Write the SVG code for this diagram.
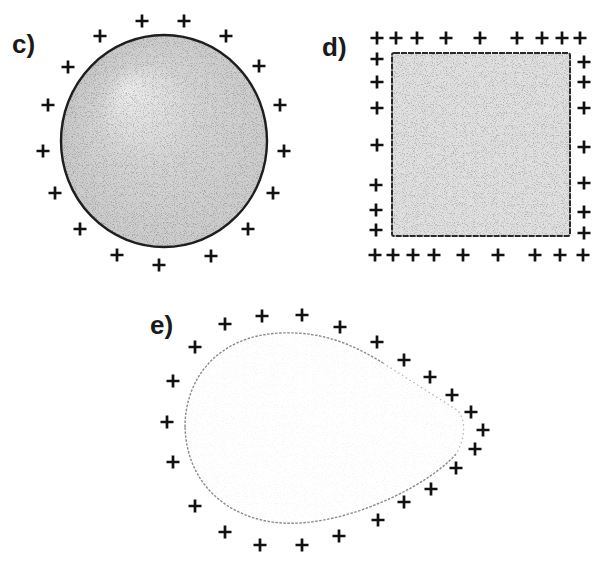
<svg xmlns="http://www.w3.org/2000/svg" xmlns:xlink="http://www.w3.org/1999/xlink" width="596" height="567" viewBox="0 0 596 567">
<style>
.lbl{font-family:"Liberation Sans",Arial,sans-serif;font-weight:bold;font-size:26px;fill:#1a1a1a}
.plus{stroke:#111;stroke-width:2.7;fill:none}
.grain{fill:#000}
</style>
<defs>
<path id="p" class="plus" d="M-6.5,0H6.5M0,-6.5V6.5"/>
<filter id="grainF" x="0" y="0" width="100%" height="100%">
<feTurbulence type="fractalNoise" baseFrequency="0.9" numOctaves="2" seed="7" result="n"/>
<feColorMatrix in="n" type="matrix" values="0 0 0 0 0  0 0 0 0 0  0 0 0 0 0  4 0 0 0 -2" result="d"/>
<feComposite in="d" in2="SourceAlpha" operator="in"/>
</filter>
<radialGradient id="cg" cx="0.6" cy="0.58" r="0.62" fx="0.32" fy="0.25">
<stop offset="0" stop-color="#ebebeb"/>
<stop offset="0.4" stop-color="#d4d4d4"/>
<stop offset="1" stop-color="#c8c8c8"/>
</radialGradient>
</defs>
<rect width="596" height="567" fill="#fff"/>

<g id="node-c">
<text class="lbl" x="12" y="53">c)</text>
<ellipse cx="164" cy="141" rx="103" ry="106" fill="url(#cg)"/>
<ellipse class="grain" cx="164" cy="141" rx="103" ry="106" filter="url(#grainF)" opacity="0.2"/>
<ellipse cx="164" cy="141" rx="103" ry="106" fill="none" stroke="#1e1e1e" stroke-width="2.4"/>
<use xlink:href="#p" x="100" y="36"/><use xlink:href="#p" x="142" y="21"/><use xlink:href="#p" x="184" y="21"/><use xlink:href="#p" x="226" y="36"/>
<use xlink:href="#p" x="68" y="67"/><use xlink:href="#p" x="259" y="66"/><use xlink:href="#p" x="48" y="105"/><use xlink:href="#p" x="280" y="105"/>
<use xlink:href="#p" x="43" y="151"/><use xlink:href="#p" x="284" y="151"/><use xlink:href="#p" x="55" y="193"/><use xlink:href="#p" x="273" y="193"/>
<use xlink:href="#p" x="80" y="229"/><use xlink:href="#p" x="248" y="229"/><use xlink:href="#p" x="117" y="255"/><use xlink:href="#p" x="211" y="256"/><use xlink:href="#p" x="159" y="265"/>
</g>

<g id="node-d">
<text class="lbl" x="322" y="56">d)</text>
<rect x="392" y="53" width="178" height="183" fill="#e0e0e0"/>
<rect class="grain" x="392" y="53" width="178" height="183" filter="url(#grainF)" opacity="0.2"/>
<rect x="392" y="53" width="178" height="183" rx="2" fill="none" stroke="#2a2a2a" stroke-width="2" stroke-dasharray="6 1"/>
<use xlink:href="#p" x="377" y="38"/><use xlink:href="#p" x="396" y="38"/><use xlink:href="#p" x="417" y="38"/><use xlink:href="#p" x="446" y="38"/><use xlink:href="#p" x="480" y="38"/><use xlink:href="#p" x="517" y="38"/><use xlink:href="#p" x="542" y="38"/><use xlink:href="#p" x="562" y="38"/><use xlink:href="#p" x="580" y="38"/>
<use xlink:href="#p" x="377" y="59"/><use xlink:href="#p" x="377" y="82"/><use xlink:href="#p" x="377" y="108"/><use xlink:href="#p" x="377" y="145"/><use xlink:href="#p" x="376" y="185"/><use xlink:href="#p" x="376" y="210"/><use xlink:href="#p" x="376" y="230"/>
<use xlink:href="#p" x="584" y="62"/><use xlink:href="#p" x="584" y="82"/><use xlink:href="#p" x="584" y="108"/><use xlink:href="#p" x="584" y="147"/><use xlink:href="#p" x="584" y="183"/><use xlink:href="#p" x="584" y="212"/><use xlink:href="#p" x="584" y="233"/>
<use xlink:href="#p" x="375" y="255"/><use xlink:href="#p" x="393" y="255"/><use xlink:href="#p" x="413" y="255"/><use xlink:href="#p" x="434" y="255"/><use xlink:href="#p" x="463" y="255"/><use xlink:href="#p" x="498" y="255"/><use xlink:href="#p" x="535" y="255"/><use xlink:href="#p" x="560" y="255"/><use xlink:href="#p" x="583" y="255"/>
</g>

<g id="node-e">
<text class="lbl" x="150" y="334">e)</text>
<path class="grain" d="M185,427 C185,378 218,336 280,333 C325,331 355,346 383,363 L457,410 C466,418 466,438 456,454 C432,482 362,519 300,523 C240,527 187,492 185,427 Z" filter="url(#grainF)" opacity="0.035"/>
<path d="M185,427 C185,378 218,336 280,333 C325,331 355,346 383,363" fill="none" stroke="#8a8a8a" stroke-width="1.4" stroke-dasharray="2.5 1.5"/>
<path d="M383,363 L457,410 C466,418 466,438 456,454" fill="none" stroke="#b0b0b0" stroke-width="1.2" stroke-dasharray="1.5 3"/>
<path d="M456,454 C432,482 362,519 300,523 C240,527 187,492 185,427" fill="none" stroke="#8a8a8a" stroke-width="1.4" stroke-dasharray="2.5 1.5"/>
<use xlink:href="#p" x="225" y="324"/><use xlink:href="#p" x="262" y="316"/><use xlink:href="#p" x="302" y="315"/><use xlink:href="#p" x="340" y="327"/><use xlink:href="#p" x="377" y="342"/><use xlink:href="#p" x="404" y="360"/><use xlink:href="#p" x="430" y="377"/><use xlink:href="#p" x="452" y="395"/><use xlink:href="#p" x="471" y="412"/><use xlink:href="#p" x="483" y="430"/>
<use xlink:href="#p" x="475" y="449"/><use xlink:href="#p" x="456" y="468"/><use xlink:href="#p" x="431" y="489"/><use xlink:href="#p" x="404" y="502"/><use xlink:href="#p" x="378" y="520"/><use xlink:href="#p" x="339" y="536"/><use xlink:href="#p" x="302" y="545"/><use xlink:href="#p" x="260" y="545"/><use xlink:href="#p" x="225" y="532"/>
<use xlink:href="#p" x="195" y="506"/><use xlink:href="#p" x="173" y="462"/><use xlink:href="#p" x="167" y="422"/><use xlink:href="#p" x="173" y="381"/><use xlink:href="#p" x="195" y="347"/>
</g>

<g id="connectors"/>
</svg>
